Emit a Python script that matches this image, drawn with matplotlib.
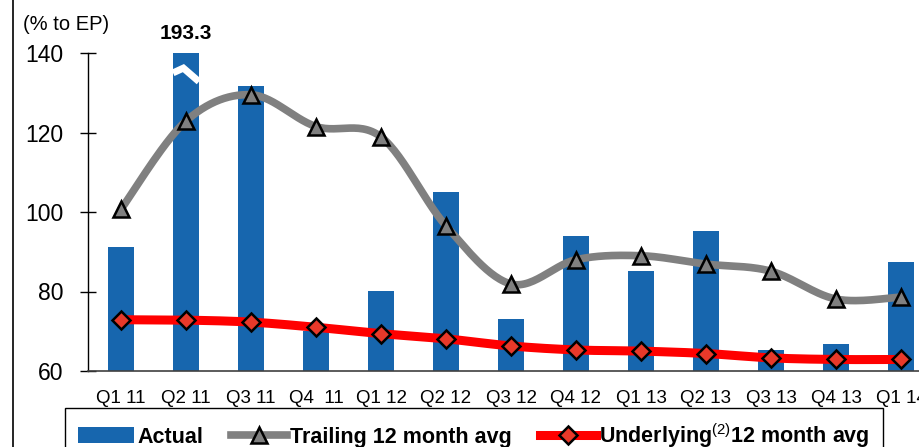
import numpy as np
import matplotlib
matplotlib.use("Agg")
import matplotlib.pyplot as plt
from matplotlib.lines import Line2D
from matplotlib.patches import Patch

plt.rcParams['font.family'] = ['Liberation Sans', 'DejaVu Sans']
plt.rcParams['mathtext.fontset'] = 'custom'
plt.rcParams['mathtext.rm'] = 'Liberation Sans'

quarters = ['Q1 11', 'Q2 11', 'Q3 11', 'Q4  11', 'Q1 12', 'Q2 12', 'Q3 12',
            'Q4 12', 'Q1 13', 'Q2 13', 'Q3 13', 'Q4 13', 'Q1 14']
actual = [91.3, 193.3, 131.7, 70.1, 80.1, 105.0, 73.0, 94.0, 85.2, 95.2, 65.4, 66.8, 87.4]
trailing = [100.7, 122.9, 129.5, 121.5, 118.9, 96.5, 81.9, 88.0, 89.0, 86.9, 85.1, 78.1, 78.6]
underlying = [72.9, 72.8, 72.3, 71.0, 69.4, 68.1, 66.3, 65.3, 65.0, 64.4, 63.3, 62.9, 62.9]

BLUE = '#1766ae'
GREY = '#808080'
RED = '#ff0000'
DIAMOND = '#e8392a'
YMAX = 140


def smooth(xs, ys, n=30):
    # catmull-rom style bezier through the points, like a spreadsheet "smoothed line"
    xs = np.asarray(xs, float)
    ys = np.asarray(ys, float)
    px = np.concatenate([[xs[0]], xs, [xs[-1]]])
    py = np.concatenate([[ys[0]], ys, [ys[-1]]])
    ox, oy = [], []
    t = np.linspace(0, 1, n)
    for i in range(1, len(px) - 2):
        p0 = np.array([px[i], py[i]])
        p3 = np.array([px[i + 1], py[i + 1]])
        c1 = p0 + (np.array([px[i + 1], py[i + 1]]) - np.array([px[i - 1], py[i - 1]])) / 6
        c2 = p3 - (np.array([px[i + 2], py[i + 2]]) - np.array([px[i], py[i]])) / 6
        b = ((1 - t) ** 3)[:, None] * p0 + (3 * (1 - t) ** 2 * t)[:, None] * c1 \
            + (3 * (1 - t) * t ** 2)[:, None] * c2 + (t ** 3)[:, None] * p3
        ox.extend(b[:, 0])
        oy.extend(b[:, 1])
    return np.array(ox), np.array(oy)


x = np.arange(len(quarters))

fig = plt.figure(figsize=(9.2, 4.47), dpi=100)
ax = fig.add_axes([88.5 / 920, 76 / 447, 845 / 920, 318 / 447])

ax.bar(x, actual, width=0.4, color=BLUE, zorder=2)

# break mark on the clipped bar
i_big = int(np.argmax(actual))
ax.plot([x[i_big] - 0.2, x[i_big] - 0.04, x[i_big] + 0.2], [135.0, 136.2, 132.8],
        color='white', lw=5, solid_capstyle='butt', solid_joinstyle='miter', zorder=3)
ax.annotate(f'{actual[i_big]:.1f}', xy=(x[i_big], YMAX), xytext=(0, 7),
            textcoords='offset points', ha='center', va='bottom',
            fontsize=15, fontweight='bold', annotation_clip=False)

sx, sy = smooth(x, trailing)
ax.plot(sx, sy, color=GREY, lw=5.5, solid_capstyle='round', zorder=4)
ax.plot(x, trailing, ls='none', marker='^', ms=11, mfc=GREY, mec='black', mew=1.8, zorder=5)

ux, uy = smooth(x, underlying)
ax.plot(ux, uy, color=RED, lw=6.5, solid_capstyle='round', zorder=6)
ax.plot(x, underlying, ls='none', marker='D', ms=9.5, mfc=DIAMOND, mec='black', mew=1.8, zorder=7)

ax.set_xlim(-0.5, len(quarters) - 0.5)
ax.set_ylim(60, YMAX)
ax.set_yticks(range(60, 141, 20))
ax.set_xticks(x)
ax.set_xticklabels(quarters, fontsize=13.5)
ax.tick_params(axis='y', direction='inout', length=12, width=1, labelsize=16.5, pad=12)
ax.tick_params(axis='x', length=0, pad=14)
for s in ['top', 'right']:
    ax.spines[s].set_visible(False)
ax.spines['left'].set_linewidth(1)
ax.spines['bottom'].set_color('#404040')
ax.spines['bottom'].set_linewidth(1.2)

fig.text(23 / 920, 1 - 24 / 447, '(% to EP)', fontsize=14.5, va='center', ha='left')

# slide border on the left
fig.add_artist(Line2D([13 / 920, 13 / 920], [0, 1], color='black', lw=1.2))

handles = [
    Patch(facecolor=BLUE),
    Line2D([], [], color=GREY, lw=5.5, marker='^', ms=11, mfc=GREY, mec='black', mew=1.8),
    Line2D([], [], color=RED, lw=6.5, marker='D', ms=9.5, mfc=DIAMOND, mec='black', mew=1.8),
]
labels = ['Actual', 'Trailing 12 month avg', r'Underlying$^{(2)}$12 month avg']
leg = fig.legend(handles, labels, loc='upper left', bbox_to_anchor=(65 / 920, 1 - 408 / 447),
                 ncol=3, frameon=True, fancybox=False, framealpha=1, edgecolor='black',
                 borderpad=0.6, handlelength=2.6, handletextpad=0.15, columnspacing=1.3,
                 borderaxespad=0, prop={'size': 15.5, 'weight': 'bold'})
leg.get_frame().set_linewidth(1)

fig.savefig('out.png', dpi=100)
